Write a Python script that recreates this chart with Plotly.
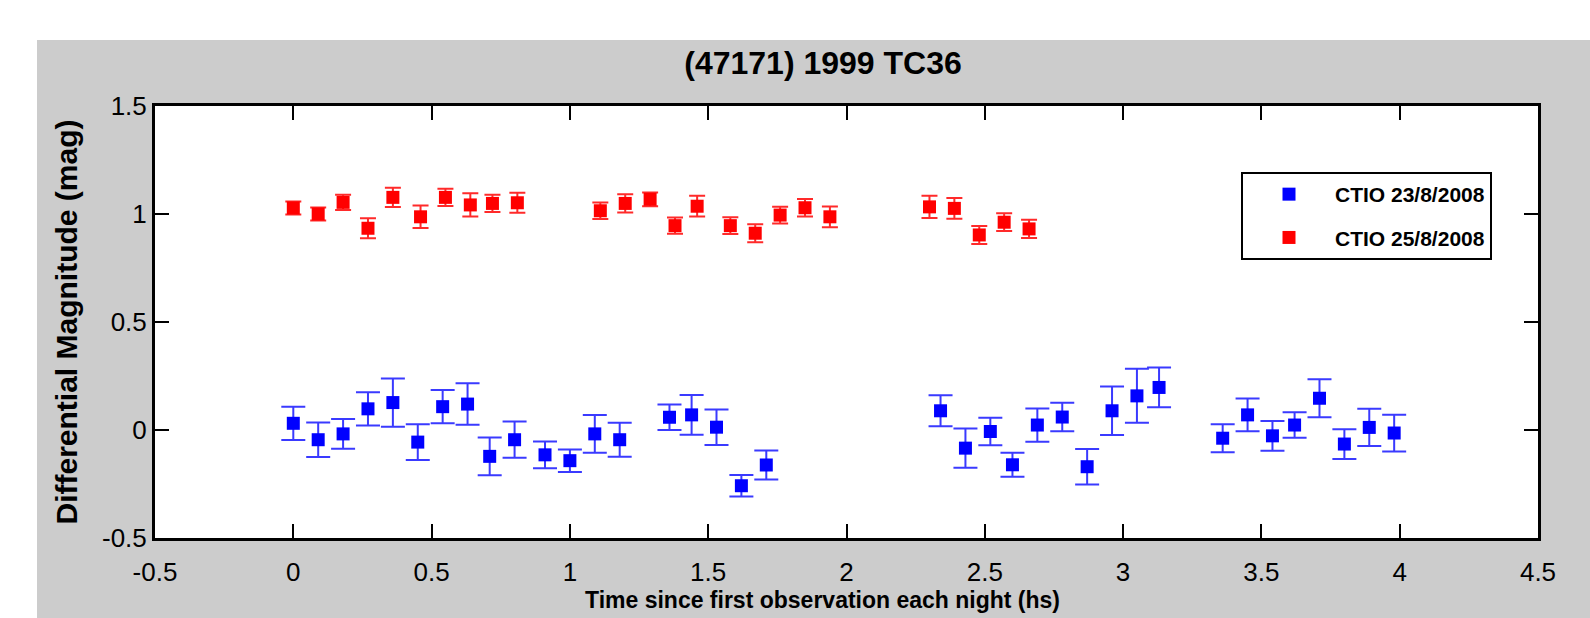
import plotly.graph_objects as go

# Night 1: CTIO 23/8/2008
t1 = [0.00, 0.09, 0.18, 0.27, 0.36, 0.45, 0.54, 0.63, 0.71, 0.80, 0.91, 1.00, 1.09, 1.18,
      1.36, 1.44, 1.53, 1.62, 1.71, 2.34, 2.43, 2.52, 2.60, 2.69, 2.78, 2.87, 2.96, 3.05,
      3.13, 3.36, 3.45, 3.54, 3.62, 3.71, 3.80, 3.89, 3.98]
m1 = [0.031, -0.045, -0.018, 0.098, 0.127, -0.056, 0.108, 0.120, -0.122, -0.045, -0.115,
      -0.142, -0.018, -0.045, 0.059, 0.070, 0.013, -0.258, -0.162, 0.089, -0.084, -0.007,
      -0.161, 0.023, 0.060, -0.170, 0.089, 0.158, 0.197, -0.038, 0.070, -0.027, 0.023,
      0.147, -0.065, 0.012, -0.014]
e1 = [0.077, 0.080, 0.069, 0.077, 0.112, 0.083, 0.077, 0.096, 0.087, 0.084, 0.062, 0.052,
      0.087, 0.079, 0.059, 0.092, 0.082, 0.050, 0.067, 0.072, 0.091, 0.064, 0.056, 0.077,
      0.066, 0.082, 0.112, 0.125, 0.092, 0.065, 0.076, 0.069, 0.059, 0.088, 0.069, 0.086,
      0.085]

# Night 2: CTIO 25/8/2008
t2 = [0.00, 0.09, 0.18, 0.27, 0.36, 0.46, 0.55, 0.64, 0.72, 0.81, 1.11, 1.20, 1.29, 1.38,
      1.46, 1.58, 1.67, 1.76, 1.85, 1.94, 2.30, 2.39, 2.48, 2.57, 2.66]
m2 = [1.028, 1.000, 1.054, 0.934, 1.077, 0.987, 1.077, 1.042, 1.049, 1.052, 1.015, 1.049,
      1.068, 0.946, 1.036, 0.946, 0.911, 0.995, 1.029, 0.987, 1.033, 1.026, 0.903, 0.962,
      0.931]
e2 = [0.030, 0.030, 0.035, 0.046, 0.045, 0.052, 0.040, 0.054, 0.040, 0.046, 0.038, 0.042,
      0.032, 0.038, 0.048, 0.039, 0.042, 0.039, 0.040, 0.048, 0.052, 0.048, 0.042, 0.041,
      0.042]

series_names = ["CTIO 23/8/2008", "CTIO 25/8/2008"]
x_ticks = [-0.5, 0, 0.5, 1, 1.5, 2, 2.5, 3, 3.5, 4, 4.5]
x_ticklabels = ["-0.5", "0", "0.5", "1", "1.5", "2", "2.5", "3", "3.5", "4", "4.5"]
y_ticks = [-0.5, 0, 0.5, 1, 1.5]
y_ticklabels = ["-0.5", "0", "0.5", "1", "1.5"]
chart_title = "(47171) 1999 TC36"
x_title = "Time since first observation each night (hs)"
y_title = "Differential Magnitude (mag)"

W, H = 1590, 618
L, R, T, B = 155, 52, 106, 80
pw, ph = W - L - R, H - T - B

def px_x(x):
    return (x - L) / pw

def px_y(y):
    return (H - B - y) / ph

FONT = "Liberation Sans, Arial, Helvetica, sans-serif"

fig = go.Figure()
fig.add_trace(go.Scatter(
    x=t1, y=m1, mode="markers", name=series_names[0], legendgroup="a",
    marker=dict(symbol="square", size=13, color="#0000ff"),
    error_y=dict(type="data", array=e1, visible=True, color="#3a3aff", thickness=2, width=12),
))
fig.add_trace(go.Scatter(
    x=t2, y=m2, mode="markers", name=series_names[1], legendgroup="b",
    marker=dict(symbol="square", size=13, color="#ff0000"),
    error_y=dict(type="data", array=e2, visible=True, color="#ff2a2a", thickness=2, width=8),
))

axis_common = dict(
    showline=True, linecolor="black", linewidth=3, mirror="ticks",
    ticks="inside", ticklen=14, tickwidth=2, tickcolor="black",
    showgrid=False, zeroline=False,
    tickfont=dict(family=FONT, size=26, color="black"),
)

fig.update_layout(
    width=W, height=H,
    margin=dict(l=L, r=R, t=T, b=B),
    paper_bgcolor="#cccccc",
    plot_bgcolor="white",
    title=dict(text=chart_title, x=823 / W, xref="container", xanchor="center",
               y=1 - 63 / H, yref="container", yanchor="middle",
               font=dict(family=FONT, size=32, color="black", weight="bold")),
    xaxis=dict(range=[-0.5, 4.5], tickvals=x_ticks, ticktext=x_ticklabels,
               ticklabelstandoff=9, **axis_common),
    yaxis=dict(range=[-0.5, 1.5], tickvals=y_ticks, ticktext=y_ticklabels,
               ticklabelstandoff=0,
               title=dict(text=y_title,
                          font=dict(family=FONT, size=30, color="black", weight="bold"),
                          standoff=16),
               **axis_common),
    annotations=[
        dict(text=x_title, xref="paper", yref="paper", x=px_x(822), y=px_y(600),
             xanchor="center", yanchor="middle", showarrow=False,
             font=dict(family=FONT, size=23, color="black", weight="bold")),
    ],
    showlegend=True,
    legend=dict(x=px_x(1241), y=px_y(172), xanchor="left", yanchor="top",
                bgcolor="white", bordercolor="black", borderwidth=2,
                font=dict(family=FONT, size=21, color="black", weight="bold"),
                itemwidth=82, tracegroupgap=13, traceorder="grouped"),
    shapes=[
        dict(type="rect", xref="paper", yref="paper", layer="below",
             x0=px_x(0), x1=px_x(W), y0=px_y(40), y1=px_y(0),
             fillcolor="white", line=dict(width=0)),
        dict(type="rect", xref="paper", yref="paper", layer="below",
             x0=px_x(0), x1=px_x(37), y0=px_y(H), y1=px_y(0),
             fillcolor="white", line=dict(width=0)),
    ],
)

fig.write_html("out.html")
